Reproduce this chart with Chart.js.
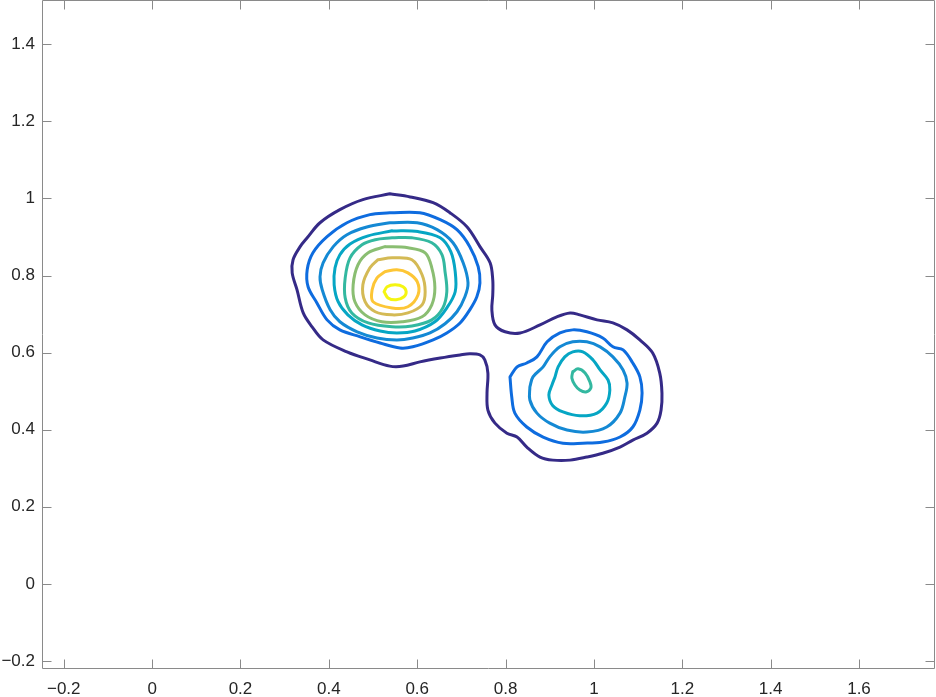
<!DOCTYPE html>
<html>
<head>
<meta charset="utf-8">
<script src="https://cdn.jsdelivr.net/npm/chart.js@4/dist/chart.umd.min.js"></script>
<style>
  html, body { margin: 0; padding: 0; background: #ffffff; }
  #wrap { width: 936px; height: 697px; position: relative; }
</style>
</head>
<body>
<div id="wrap"><canvas id="c" width="936" height="697"></canvas></div>
<script>
// ---- axis ticks and limits ----
const xTicks = [-0.2, 0, 0.2, 0.4, 0.6, 0.8, 1, 1.2, 1.4, 1.6];
const yTicks = [-0.2, 0, 0.2, 0.4, 0.6, 0.8, 1, 1.2, 1.4];
const xLimits = [-0.247, 1.772];
const yLimits = [-0.221, 1.515];

// ---- contour lines, [x, y] pairs ----
// level 1 (outermost, encloses both peaks)
const level1 = [[0.538,1.012],[0.584,1.004],[0.636,0.989],[0.674,0.963],[0.713,0.926],[0.742,0.875],[0.765,0.833],[0.771,0.789],[0.771,0.750],[0.769,0.711],[0.776,0.672],[0.799,0.654],[0.833,0.651],[0.878,0.672],[0.916,0.693],[0.946,0.703],[0.968,0.698],[1.007,0.685],[1.043,0.677],[1.075,0.659],[1.104,0.633],[1.133,0.599],[1.149,0.547],[1.154,0.495],[1.152,0.451],[1.143,0.417],[1.120,0.391],[1.088,0.373],[1.059,0.355],[1.020,0.339],[0.984,0.329],[0.946,0.321],[0.907,0.321],[0.878,0.329],[0.848,0.355],[0.826,0.381],[0.803,0.391],[0.776,0.417],[0.760,0.451],[0.758,0.495],[0.760,0.547],[0.753,0.581],[0.742,0.594],[0.719,0.597],[0.697,0.594],[0.652,0.586],[0.606,0.576],[0.568,0.565],[0.538,0.565],[0.493,0.581],[0.441,0.602],[0.387,0.633],[0.362,0.667],[0.342,0.703],[0.328,0.763],[0.317,0.807],[0.319,0.841],[0.335,0.875],[0.351,0.898],[0.380,0.937],[0.425,0.971],[0.477,0.997],[0.538,1.012]];
// level 2
const level2Left = [[0.538,0.963],[0.606,0.963],[0.652,0.945],[0.690,0.919],[0.719,0.875],[0.738,0.823],[0.742,0.781],[0.735,0.745],[0.719,0.711],[0.697,0.677],[0.667,0.651],[0.636,0.633],[0.590,0.615],[0.561,0.612],[0.516,0.625],[0.471,0.641],[0.425,0.659],[0.396,0.685],[0.373,0.729],[0.353,0.771],[0.351,0.815],[0.364,0.859],[0.396,0.901],[0.441,0.937],[0.493,0.958],[0.538,0.963]];
const level2Right = [[0.810,0.537],[0.814,0.485],[0.821,0.443],[0.848,0.407],[0.885,0.381],[0.930,0.365],[0.975,0.365],[1.020,0.368],[1.059,0.381],[1.088,0.407],[1.104,0.451],[1.109,0.495],[1.104,0.537],[1.088,0.573],[1.066,0.607],[1.043,0.615],[1.020,0.638],[0.984,0.654],[0.952,0.659],[0.923,0.651],[0.894,0.628],[0.871,0.589],[0.848,0.573],[0.826,0.563],[0.810,0.537]];
// level 3
const level3Left = [[0.538,0.937],[0.600,0.937],[0.645,0.919],[0.681,0.885],[0.704,0.833],[0.715,0.781],[0.708,0.745],[0.690,0.706],[0.663,0.675],[0.629,0.651],[0.590,0.638],[0.554,0.633],[0.509,0.638],[0.464,0.654],[0.425,0.680],[0.403,0.711],[0.385,0.763],[0.380,0.797],[0.387,0.833],[0.410,0.875],[0.441,0.906],[0.486,0.926],[0.538,0.937]];
const level3Right = [[0.855,0.511],[0.855,0.477],[0.871,0.443],[0.900,0.417],[0.939,0.399],[0.984,0.394],[1.029,0.407],[1.059,0.443],[1.070,0.485],[1.075,0.521],[1.066,0.555],[1.043,0.589],[1.014,0.615],[0.984,0.628],[0.952,0.628],[0.923,0.615],[0.900,0.589],[0.885,0.563],[0.862,0.537],[0.855,0.511]];
// level 4
const level4Left = [[0.543,0.916],[0.602,0.914],[0.652,0.898],[0.676,0.862],[0.686,0.810],[0.686,0.758],[0.667,0.716],[0.640,0.680],[0.595,0.656],[0.554,0.651],[0.516,0.656],[0.475,0.672],[0.443,0.698],[0.421,0.732],[0.412,0.776],[0.414,0.820],[0.425,0.854],[0.448,0.882],[0.489,0.903],[0.543,0.916]];
const level4Right = [[0.912,0.537],[0.905,0.516],[0.898,0.490],[0.907,0.462],[0.930,0.446],[0.968,0.436],[1.007,0.443],[1.029,0.469],[1.036,0.503],[1.032,0.529],[1.014,0.555],[0.998,0.581],[0.975,0.602],[0.952,0.602],[0.934,0.589],[0.919,0.563],[0.912,0.537]];
// level 5
const level5Left = [[0.543,0.898],[0.588,0.898],[0.633,0.885],[0.656,0.854],[0.663,0.810],[0.667,0.758],[0.658,0.716],[0.633,0.685],[0.588,0.669],[0.543,0.667],[0.489,0.677],[0.452,0.703],[0.437,0.742],[0.437,0.794],[0.448,0.846],[0.475,0.880],[0.505,0.893],[0.543,0.898]];
const level5Right = [[0.952,0.550],[0.964,0.558],[0.980,0.547],[0.991,0.524],[0.993,0.508],[0.982,0.498],[0.968,0.503],[0.957,0.516],[0.950,0.534],[0.952,0.550]];
// levels 6-9 (left peak only)
const level6 = [[0.527,0.875],[0.579,0.872],[0.618,0.859],[0.633,0.820],[0.640,0.768],[0.633,0.724],[0.611,0.693],[0.566,0.680],[0.520,0.680],[0.482,0.698],[0.459,0.732],[0.455,0.776],[0.466,0.828],[0.489,0.859],[0.527,0.875]];
const level7 = [[0.511,0.841],[0.543,0.846],[0.588,0.841],[0.611,0.802],[0.618,0.758],[0.611,0.724],[0.579,0.703],[0.543,0.698],[0.505,0.706],[0.482,0.732],[0.477,0.776],[0.493,0.820],[0.511,0.841]];
const level8 = [[0.527,0.810],[0.554,0.815],[0.579,0.807],[0.600,0.784],[0.602,0.750],[0.579,0.719],[0.543,0.716],[0.500,0.732],[0.498,0.763],[0.509,0.794],[0.527,0.810]];
const level9 = [[0.525,0.758],[0.532,0.771],[0.550,0.776],[0.568,0.771],[0.575,0.758],[0.570,0.745],[0.552,0.737],[0.534,0.742],[0.525,0.758]];

// ---- style: colour per contour level (parula) ----
const levelColors = ['#352A87','#0E6CDF','#1489D4','#06A6C4','#33B8A0','#8ABE72','#D4BA55','#FDC636','#F5F512'];

const contours = [
  [level1, 0], [level2Left, 1], [level2Right, 1], [level3Left, 2], [level3Right, 2],
  [level4Left, 3], [level4Right, 3], [level5Left, 4], [level5Right, 4],
  [level6, 5], [level7, 6], [level8, 7], [level9, 8]
];

const datasets = contours.map(([pts, li]) => ({
  data: pts.map(p => ({ x: p[0], y: p[1] })),
  showLine: true,
  borderColor: levelColors[li],
  backgroundColor: levelColors[li],
  borderWidth: 3,
  pointRadius: 0,
  pointHoverRadius: 0,
  tension: 0.35,
  fill: false,
  borderJoinStyle: 'round',
  borderCapStyle: 'round'
}));

const fmt = v => String(v).replace('-', '\u2212');

const boxTicks = {
  id: 'boxTicks',
  afterDraw(chart) {
    const ctx = chart.ctx;
    const a = chart.chartArea;
    const xs = chart.scales.x, ys = chart.scales.y;
    const L = Math.round(a.left) - 0.5, R = Math.round(a.right) - 0.5;
    const T = Math.round(a.top) + 0.5, B = Math.round(a.bottom) - 0.5;
    const len = 9;
    ctx.save();
    ctx.strokeStyle = '#8a8a8a';
    ctx.lineWidth = 1;
    ctx.beginPath();
    ctx.rect(L, T, R - L, B - T);
    xTicks.forEach(v => {
      const px = Math.round(xs.getPixelForValue(v)) + 0.5;
      ctx.moveTo(px, B); ctx.lineTo(px, B - len);
      ctx.moveTo(px, T); ctx.lineTo(px, T + len);
    });
    yTicks.forEach(v => {
      const py = Math.round(ys.getPixelForValue(v)) + 0.5;
      ctx.moveTo(L, py); ctx.lineTo(L + len, py);
      ctx.moveTo(R, py); ctx.lineTo(R - len, py);
    });
    ctx.stroke();
    ctx.restore();
  }
};

new Chart(document.getElementById('c'), {
  type: 'scatter',
  data: { datasets },
  options: {
    responsive: false,
    animation: false,
    devicePixelRatio: 1,
    layout: { padding: { top: 0, right: 1, left: 0, bottom: 0 } },
    plugins: { legend: { display: false }, tooltip: { enabled: false } },
    scales: {
      x: {
        type: 'linear',
        min: xLimits[0], max: xLimits[1],
        afterBuildTicks: s => { s.ticks = xTicks.map(v => ({ value: v })); },
        afterFit: s => { s.height = 28; s.paddingLeft = 0; s.paddingRight = 0; },
        grid: { display: false, drawTicks: false },
        border: { display: false },
        ticks: {
          padding: 10, maxRotation: 0, autoSkip: false,
          color: '#262626',
          font: { family: "'Liberation Sans', Arial, sans-serif", size: 17 },
          callback: v => fmt(v)
        }
      },
      y: {
        type: 'linear',
        min: yLimits[0], max: yLimits[1],
        afterBuildTicks: s => { s.ticks = yTicks.map(v => ({ value: v })); },
        afterFit: s => { s.width = 43; s.paddingTop = 0; s.paddingBottom = 0; },
        grid: { display: false, drawTicks: false },
        border: { display: false },
        ticks: {
          padding: 8, autoSkip: false,
          color: '#262626',
          font: { family: "'Liberation Sans', Arial, sans-serif", size: 17 },
          callback: v => fmt(v)
        }
      }
    }
  },
  plugins: [boxTicks]
});
</script>
</body>
</html>
